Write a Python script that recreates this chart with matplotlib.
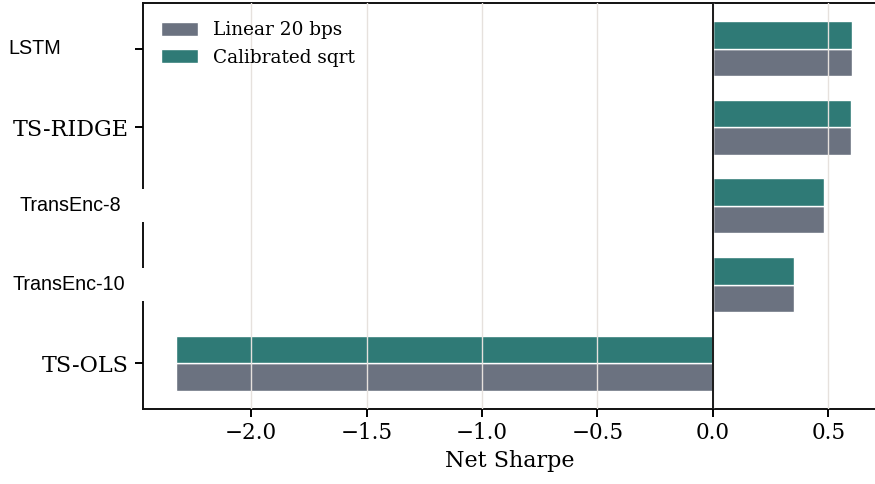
"""Net Sharpe by model under two cost models (horizontal grouped bars)."""

import matplotlib

matplotlib.use("Agg")

import matplotlib.pyplot as plt
import matplotlib.transforms as mtransforms
import numpy as np
from matplotlib.patches import Rectangle

MODELS = ["LSTM", "TS-RIDGE", "TransEnc-8", "TransEnc-10", "TS-OLS"]
LINEAR_20BPS = [0.602, 0.599, 0.482, 0.351, -2.325]
CALIBRATED_SQRT = [0.602, 0.599, 0.482, 0.351, -2.325]
SANS_LABELS = {"LSTM": -0.112, "TransEnc-8": -0.030, "TransEnc-10": -0.025}
COVERED = ["TransEnc-8", "TransEnc-10"]

GREY = "#6b7280"
TEAL = "#2f7a76"
GRID = "#e6e1dd"
BAR_H = 0.35


def main() -> None:
    plt.rcParams["font.family"] = "DejaVu Serif"

    fig = plt.figure(figsize=(8.75, 4.84), dpi=100)
    ax = fig.add_axes([0.1634, 0.155, 0.8386, 0.839])

    y = np.arange(len(MODELS))
    ax.barh(y + BAR_H / 2, LINEAR_20BPS, height=BAR_H, color=GREY,
            edgecolor="white", linewidth=1.0, label="Linear 20 bps", zorder=2)
    ax.barh(y - BAR_H / 2, CALIBRATED_SQRT, height=BAR_H, color=TEAL,
            edgecolor="white", linewidth=1.0, label="Calibrated sqrt", zorder=2)
    ax.axvline(0.0, color="#1a1a1a", linewidth=1.4, zorder=3.5)

    ax.set_xlim(-2.469, 0.71)
    ax.set_ylim(4.58, -0.58)
    ax.set_xticks([-2.0, -1.5, -1.0, -0.5, 0.0, 0.5])
    ax.xaxis.grid(True, color=GRID, linewidth=1.0, zorder=3)
    ax.set_axisbelow(False)
    ax.tick_params(axis="x", labelsize=15.5, length=6, width=1.4)
    ax.tick_params(axis="y", labelsize=16, length=6, width=1.4, pad=4.5)
    for spine in ax.spines.values():
        spine.set_linewidth(1.4)
        spine.set_color("#111111")
    ax.spines["right"].set_visible(False)

    ax.set_yticks(y)
    ax.set_yticklabels(MODELS)
    trans = mtransforms.blended_transform_factory(ax.transAxes, ax.transData)
    for label, idx in zip(ax.get_yticklabels(), y):
        name = MODELS[idx]
        if name in SANS_LABELS:
            label.set_visible(False)
            if name in COVERED:
                ax.add_patch(Rectangle((-0.17, idx - 0.21), 0.173, 0.42,
                                       transform=trans, facecolor="white",
                                       edgecolor="none", clip_on=False, zorder=6))
            ax.text(SANS_LABELS[name], idx, name, transform=trans, ha="right",
                    va="center", fontsize=14.2, family="Liberation Sans",
                    clip_on=False, zorder=7)

    ax.set_xlabel("Net Sharpe", fontsize=16)
    ax.legend(loc="upper left", frameon=False, fontsize=13.3,
              handlelength=2.0, handleheight=0.8, borderaxespad=0.6)

    fig.savefig("out.png", dpi=100, facecolor="white")
    plt.close(fig)


if __name__ == "__main__":
    main()
